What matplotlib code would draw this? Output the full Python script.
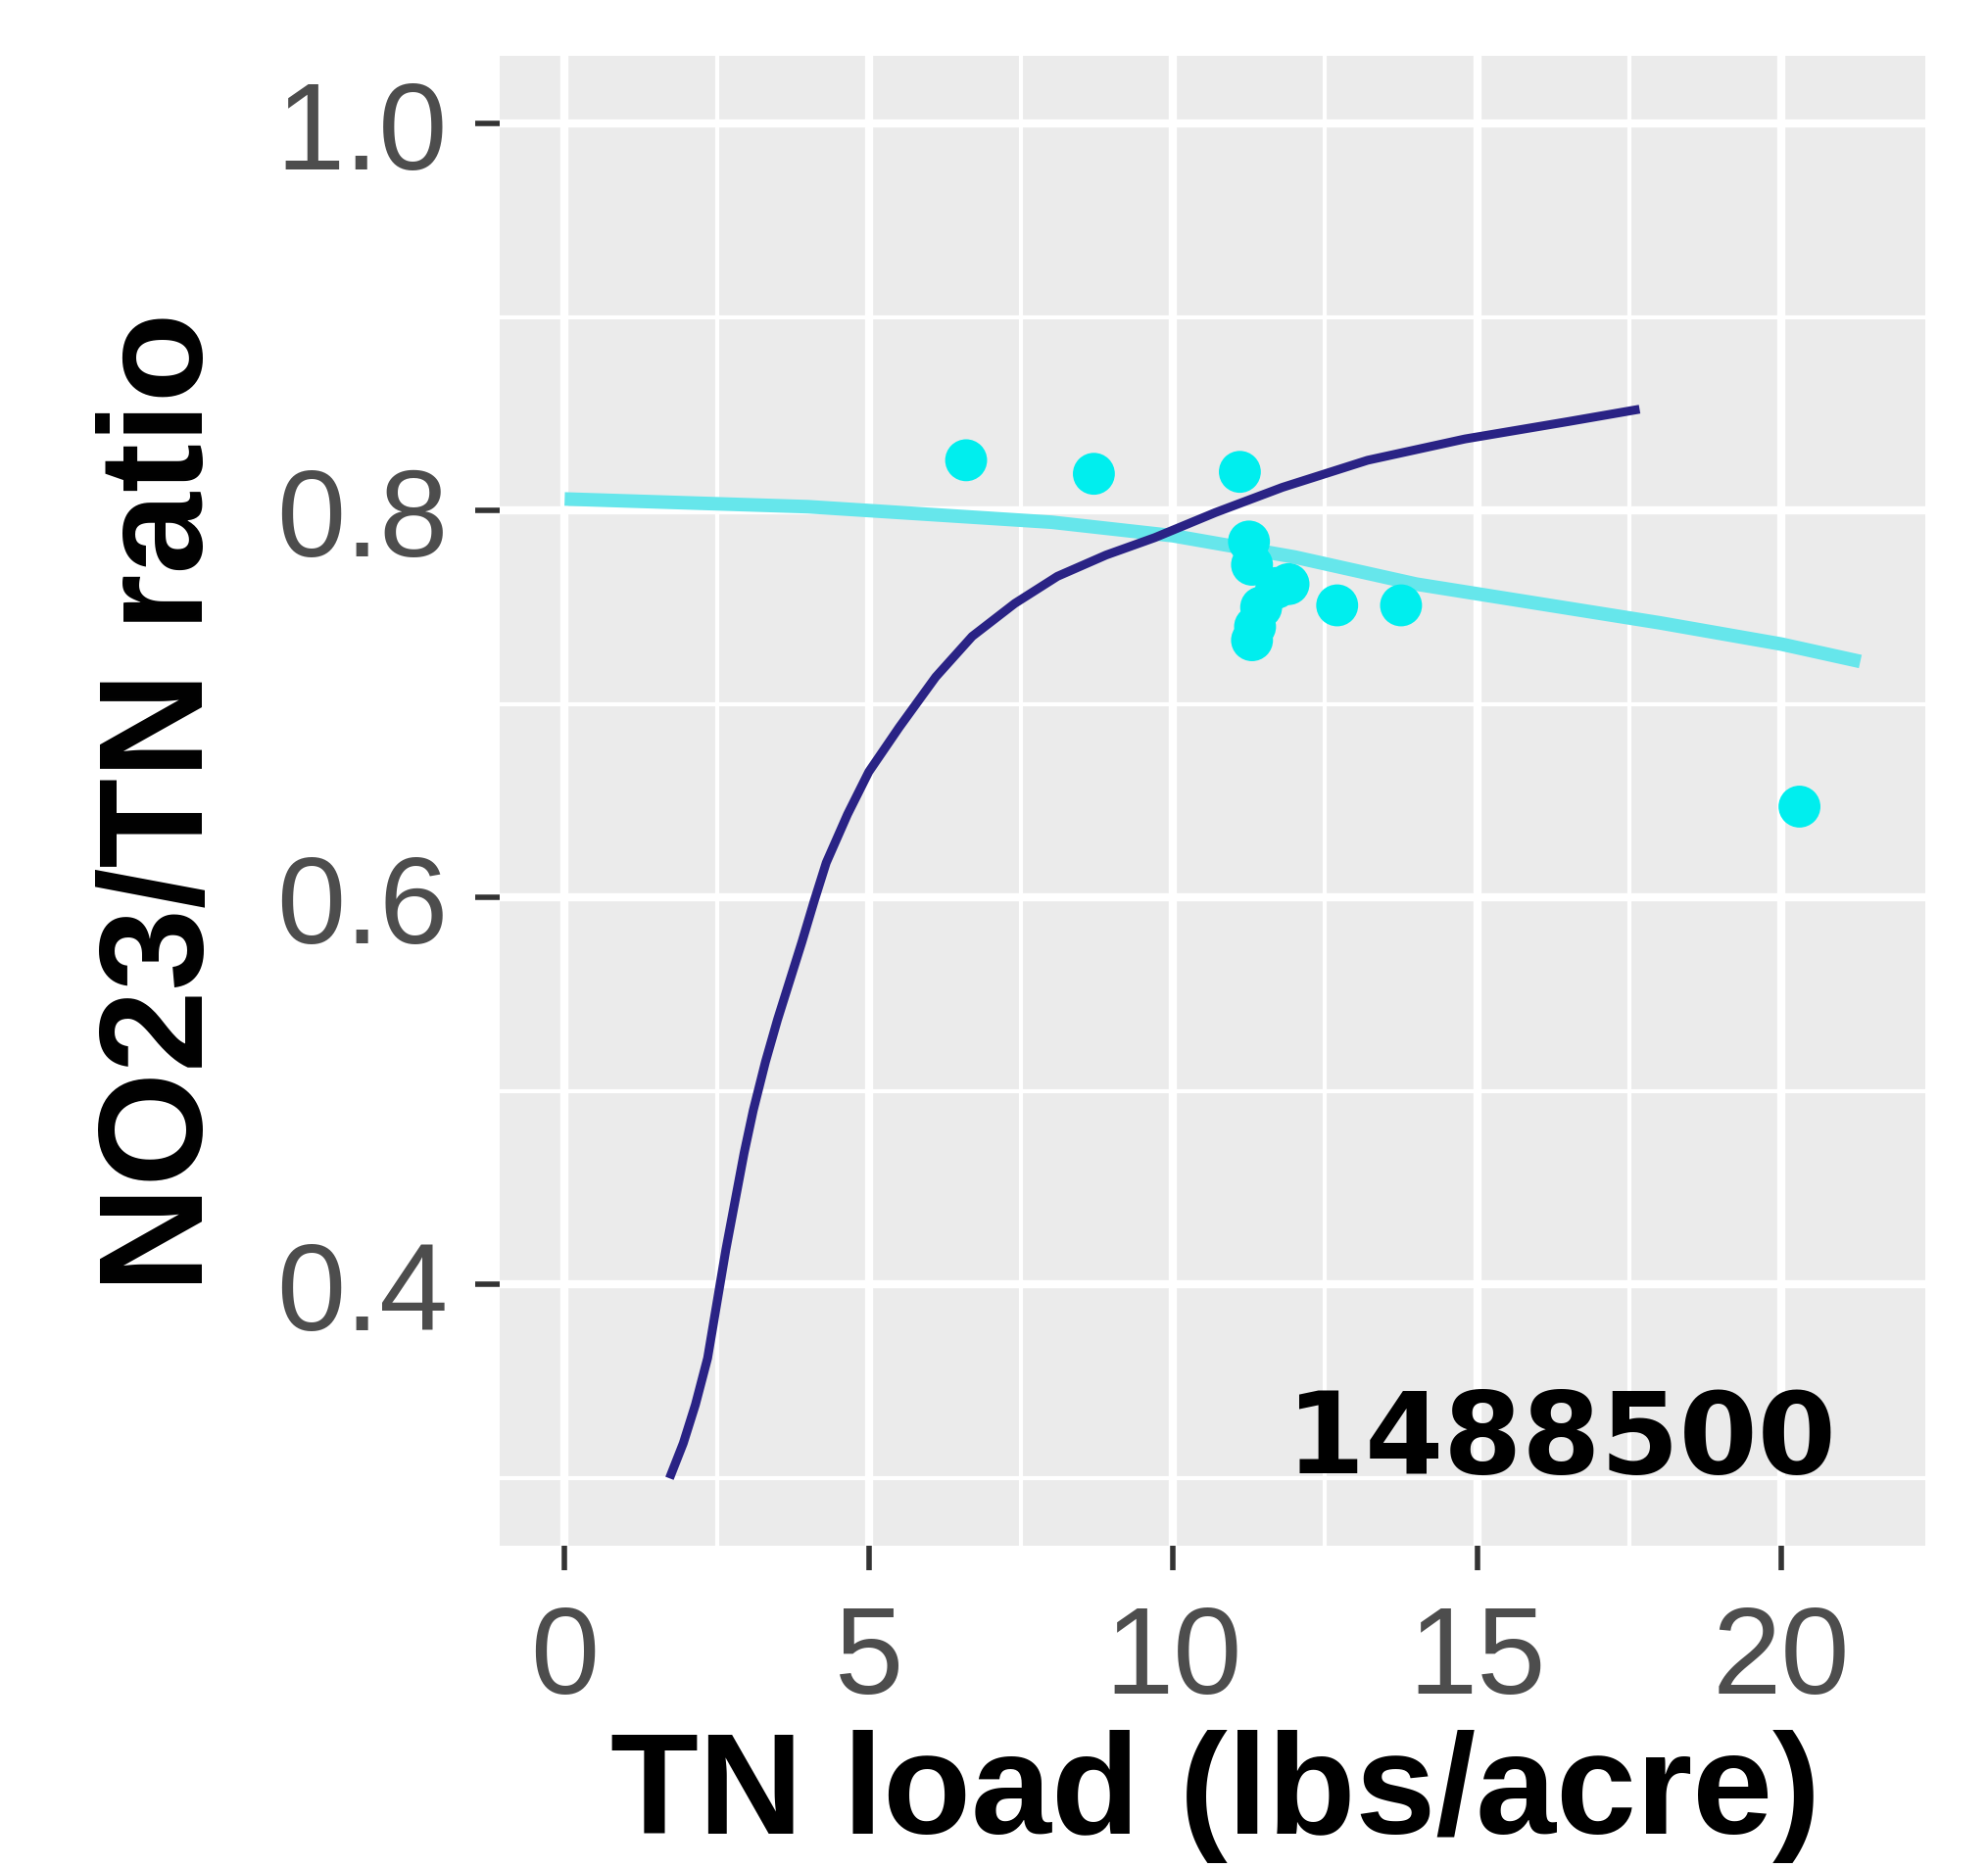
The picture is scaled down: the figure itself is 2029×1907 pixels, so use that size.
import numpy as np
import matplotlib
matplotlib.use('Agg')
import matplotlib.pyplot as plt
from matplotlib.ticker import MultipleLocator

# observed loads / ratios for site 1488500
tn_load = [6.6, 8.7, 11.1, 11.25, 11.3, 11.7, 11.9, 11.45, 11.35, 11.3, 12.7, 13.75, 20.3]
no23_ratio = [0.826, 0.819, 0.820, 0.784, 0.772, 0.760, 0.762, 0.750, 0.740, 0.733, 0.751, 0.751, 0.647]

# smooth through the site data (cyan)
site_fit_x = [0, 2, 4, 6, 8, 10, 12, 14, 16, 18, 20, 21.3]
site_fit_y = [0.806, 0.804, 0.802, 0.798, 0.794, 0.787, 0.776, 0.762, 0.752, 0.742, 0.731, 0.722]

# regional curve (dark blue)
curve_x = [1.75, 1.95, 2.15, 2.35, 2.5, 2.65, 2.8, 2.95, 3.1, 3.3, 3.5, 3.7, 3.9, 4.1,
           4.3, 4.65, 5.0, 5.5, 6.1, 6.7, 7.4, 8.1, 8.9, 9.7, 10.7, 11.8, 13.2, 14.8,
           16.5, 17.6]
curve_y = [0.302, 0.318, 0.338, 0.362, 0.390, 0.418, 0.443, 0.468, 0.490, 0.515, 0.537,
           0.557, 0.577, 0.598, 0.618, 0.643, 0.665, 0.688, 0.714, 0.735, 0.752, 0.766,
           0.777, 0.786, 0.799, 0.812, 0.826, 0.837, 0.846, 0.852]

x_ticks = [0, 5, 10, 15, 20]
y_ticks = [0.4, 0.6, 0.8, 1.0]
site_id = '1488500'

plt.rcParams['font.family'] = ['Liberation Sans', 'DejaVu Sans']

fig = plt.figure(figsize=(20.29, 19.08), dpi=100)
ax = fig.add_axes([0.2513, 0.1724, 0.7172, 0.7972])
ax.set_facecolor('#EBEBEB')

ax.plot(site_fit_x, site_fit_y, color='#66E6EB', lw=10, solid_capstyle='butt', zorder=3)
ax.scatter(tn_load, no23_ratio, s=950, color='#00EEEE', edgecolors='none', zorder=4)
ax.plot(curve_x, curve_y, color='#2A2385', lw=6.5, solid_joinstyle='round', zorder=5)

ax.set_xlim(-1.07, 22.37)
ax.set_ylim(0.265, 1.035)
ax.set_xticks(x_ticks)
ax.set_yticks(y_ticks)
ax.set_yticklabels(['{:.1f}'.format(v) for v in y_ticks])
ax.xaxis.set_minor_locator(MultipleLocator(2.5))
ax.yaxis.set_minor_locator(MultipleLocator(0.1))

ax.grid(which='major', color='white', lw=6)
ax.grid(which='minor', color='white', lw=3)
ax.set_axisbelow(True)
for s in ax.spines.values():
    s.set_visible(False)

ax.tick_params(which='major', length=18, width=4, color='#333333',
               labelsize=91, labelcolor='#4D4D4D')
ax.tick_params(axis='x', pad=24)
ax.tick_params(axis='y', pad=20)
ax.tick_params(which='minor', length=0)

ax.text(20.9, 0.303, site_id, ha='right', va='baseline', fontsize=83,
        fontweight='bold', family='DejaVu Sans', color='black', zorder=6)

fig.text(0.102, 0.571, 'NO23/TN ratio', rotation=90, rotation_mode='anchor',
         ha='center', va='baseline', fontsize=108, fontweight='bold')
fig.text(0.6116, 0.019, 'TN load (lbs/acre)', ha='center', va='baseline',
         fontsize=106, fontweight='bold')

fig.savefig('out.png', dpi=100, facecolor='white')
